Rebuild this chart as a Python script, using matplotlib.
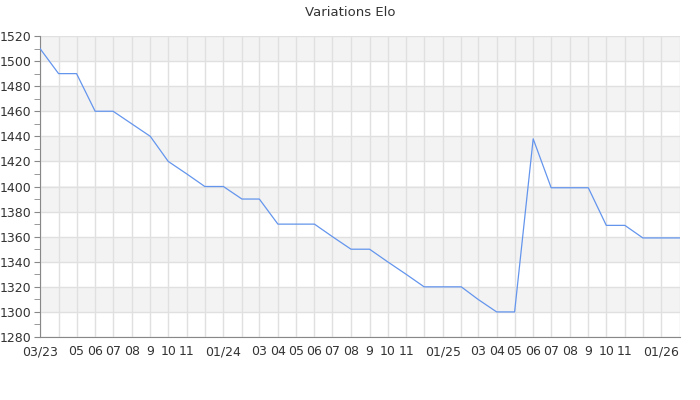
import matplotlib
matplotlib.use("Agg")
from matplotlib import pyplot as plt
from matplotlib.ticker import MultipleLocator
import pandas as pd

months = pd.date_range("2023-03-01", "2026-02-01", freq="MS")
elo = [1510, 1490, 1490, 1460, 1460, 1450, 1440, 1420, 1410, 1400,
       1400, 1390, 1390, 1370, 1370, 1370, 1360, 1350, 1350, 1340,
       1330, 1320, 1320, 1320, 1310, 1300, 1300, 1438, 1399, 1399,
       1399, 1369, 1369, 1359, 1359, 1359]
tick_labels = ["03/23", "", "05", "06", "07", "08", "9", "10", "11", "",
               "01/24", "", "03", "04", "05", "06", "07", "08", "9", "10",
               "11", "", "01/25", "", "03", "04", "05", "06", "07", "08",
               "9", "10", "11", "", "01/26", ""]

fig = plt.figure(figsize=(7, 4), dpi=100)
ax = fig.add_axes([40 / 700, 1 - 337 / 400, 640 / 700, 301 / 400])

# alternating bands
for lo in range(1300, 1520, 40):
    ax.axhspan(lo, lo + 20, color="#f3f3f3", zorder=0, lw=0)

ax.plot(months, elo, color="#6495ed", lw=0.9, zorder=3)

ax.set_xlim(months[0], months[-1])
ax.set_ylim(1280, 1520)
ax.set_xticks(months)
ax.set_xticklabels(tick_labels)
ax.yaxis.set_major_locator(MultipleLocator(20))
ax.yaxis.set_minor_locator(MultipleLocator(10))

ax.grid(True, which="major", color="#e0e0e0", lw=1, zorder=1)
ax.set_axisbelow(True)
for s in ["top", "right"]:
    ax.spines[s].set_visible(False)
for s in ["left", "bottom"]:
    ax.spines[s].set_color("#888888")
ax.tick_params(axis="x", length=0, pad=6, labelsize=9, labelcolor="#333333")
ax.tick_params(axis="y", which="major", length=4, color="#888888",
               labelsize=9, labelcolor="#333333", pad=2)
ax.tick_params(axis="y", which="minor", length=4, color="#888888")

fig.suptitle("Variations Elo", y=0.985, fontsize=9.5, color="#333333")
fig.savefig("out.png")
